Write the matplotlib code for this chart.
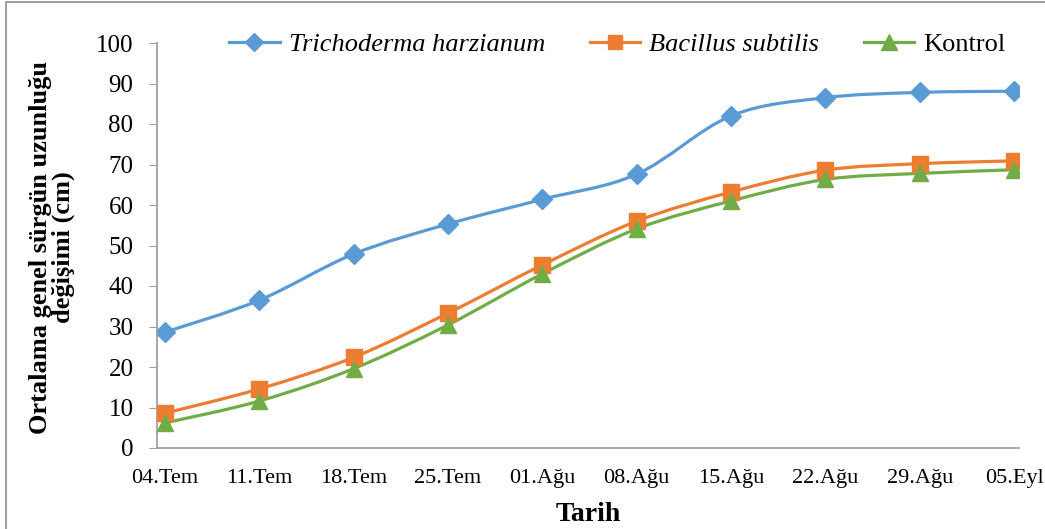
import numpy as np
import matplotlib.pyplot as plt
from matplotlib.path import Path
from matplotlib.patches import PathPatch, Rectangle
from matplotlib.lines import Line2D

plt.rcParams['font.family'] = ['Liberation Serif', 'DejaVu Serif']

tarih = ['04.Tem', '11.Tem', '18.Tem', '25.Tem', '01.Ağu',
         '08.Ağu', '15.Ağu', '22.Ağu', '29.Ağu', '05.Eyl']
trichoderma = [28.6, 36.5, 47.9, 55.3, 61.4, 67.6, 82.0, 86.5, 87.8, 88.1]
bacillus = [8.6, 14.6, 22.4, 33.3, 45.2, 56.0, 63.2, 68.6, 70.2, 70.9]
kontrol = [6.2, 11.6, 19.6, 30.4, 43.0, 54.1, 61.0, 66.3, 67.8, 68.7]

series = [
    ('Trichoderma harzianum', trichoderma, '#5B9BD5', 'D', 10, 'italic'),
    ('Bacillus subtilis', bacillus, '#ED7D31', 's', 11, 'italic'),
    ('Kontrol', kontrol, '#70AD47', '^', 12, 'normal'),
]


def smooth_path(x, y):
    # cubic Bezier through every point (Catmull-Rom control points)
    pts = np.column_stack([x, y]).astype(float)
    n = len(pts)
    verts = [pts[0]]
    codes = [Path.MOVETO]
    for i in range(n - 1):
        p0 = pts[max(i - 1, 0)]
        p1 = pts[i]
        p2 = pts[i + 1]
        p3 = pts[min(i + 2, n - 1)]
        c1 = p1 + (p2 - p0) / 6.0
        c2 = p2 - (p3 - p1) / 6.0
        verts += [c1, c2, p2]
        codes += [Path.CURVE4] * 3
    return Path(verts, codes)


fig = plt.figure(figsize=(10.45, 5.29), dpi=100)
ax = fig.add_axes([157 / 1045, 81 / 529, 862 / 1045, 405 / 529])

x = np.arange(len(tarih))
handles = []
for name, vals, color, marker, ms, style in series:
    ax.add_patch(PathPatch(smooth_path(x, vals), fill=False, edgecolor=color,
                           lw=2.3, zorder=2))
    ax.plot(x, vals, linestyle='none', marker=marker, ms=ms, color=color, zorder=3)
    handles.append(Line2D([], [], color=color, lw=2.3, marker=marker, ms=ms - 1))

ax.set_xlim(-0.085, 9.053)
ax.set_ylim(0, 100)
ax.set_xticks(x)
ax.set_xticklabels(tarih, fontsize=16)
ax.set_yticks(range(0, 101, 10))
ax.tick_params(axis='y', labelsize=18, length=6, color='#A0A0A0', pad=11)
ax.tick_params(axis='x', length=0, pad=15)

for s in ['top', 'right']:
    ax.spines[s].set_visible(False)
for s in ['left', 'bottom']:
    ax.spines[s].set_color('#A0A0A0')
    ax.spines[s].set_linewidth(1.3)

ax.set_xlabel('Tarih', fontsize=20, fontweight='bold', labelpad=10)
fig.text(52 / 1045, 1 - 247 / 529, 'Ortalama genel sürgün uzunluğu\ndeğişimi (cm)',
         rotation=90, ha='center', va='center', multialignment='center',
         fontsize=19, fontweight='bold', linespacing=1.0)

leg = ax.legend(handles, [s[0] for s in series], loc='upper right',
                bbox_to_anchor=(1.012, 1.085), ncol=3, frameon=False,
                fontsize=19, handlelength=1.9, columnspacing=1.7, handletextpad=0.35)
for txt, s in zip(leg.get_texts(), series):
    txt.set_style(s[5])

# outer chart border
fig.patches.append(Rectangle((6 / 1045, -0.01), 1.2, 1.0 - 1.5 / 529 + 0.01,
                             transform=fig.transFigure, fill=False,
                             edgecolor='#8C8C8C', lw=1.2, figure=fig))

fig.savefig('out.png', dpi=100)
